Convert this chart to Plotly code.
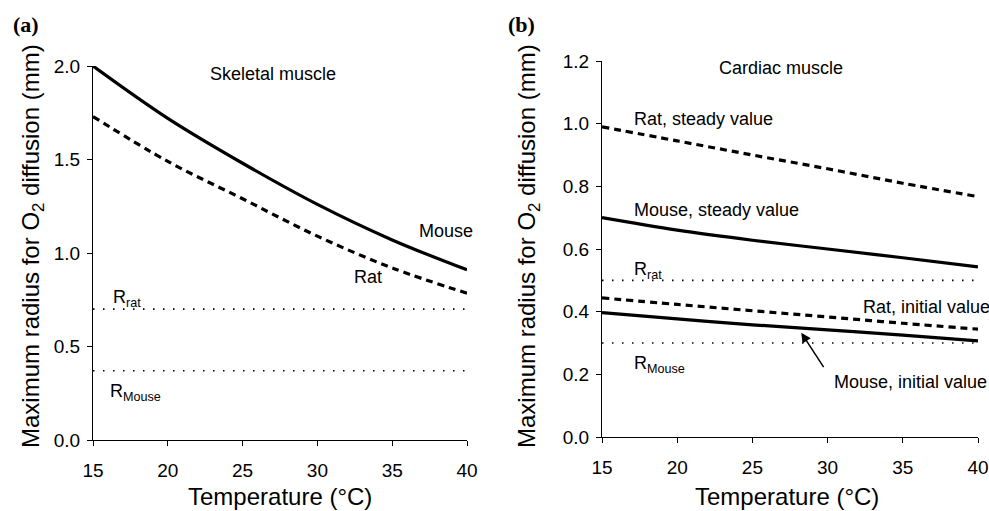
import plotly.graph_objects as go

W, H = 989, 511

temps = [15, 20, 25, 30, 35, 40]
# Panel (a): skeletal muscle
skel_mouse = [2.00, 1.72, 1.48, 1.26, 1.07, 0.91]
skel_rat = [1.73, 1.49, 1.29, 1.09, 0.92, 0.785]
skel_r_rat = 0.70
skel_r_mouse = 0.37
# Panel (b): cardiac muscle
card_rat_steady = [0.99, 0.945, 0.90, 0.856, 0.81, 0.767]
card_mouse_steady = [0.70, 0.66, 0.628, 0.60, 0.572, 0.543]
card_rat_initial = [0.444, 0.423, 0.403, 0.383, 0.363, 0.344]
card_mouse_initial = [0.397, 0.377, 0.358, 0.342, 0.325, 0.307]
card_r_rat = 0.50
card_r_mouse = 0.30

x_ticks = [15, 20, 25, 30, 35, 40]
ya_ticks = [0.0, 0.5, 1.0, 1.5, 2.0]
yb_ticks = [0.0, 0.2, 0.4, 0.6, 0.8, 1.0, 1.2]

FONT = "Liberation Sans, Arial, sans-serif"
SOLID = dict(color="black", width=3.2)
DASHED = dict(color="black", width=3.2, dash="7px,5px")
DOTTED = dict(color="black", width=1.6, dash="1.5px,8.5px")

fig = go.Figure()

def line(x, y, style, xa, ya):
    fig.add_trace(go.Scatter(x=x, y=y, mode="lines", line=dict(**style, shape="spline"),
                             xaxis=xa, yaxis=ya, showlegend=False, cliponaxis=False,
                             hoverinfo="skip"))

line(temps, skel_mouse, SOLID, "x", "y")
line(temps, skel_rat, DASHED, "x", "y")
line([15, 40], [skel_r_rat] * 2, DOTTED, "x", "y")
line([15, 40], [skel_r_mouse] * 2, DOTTED, "x", "y")

line(temps, card_rat_steady, DASHED, "x2", "y2")
line(temps, card_mouse_steady, SOLID, "x2", "y2")
line(temps, card_rat_initial, DASHED, "x2", "y2")
line(temps, card_mouse_initial, SOLID, "x2", "y2")
line([15, 40], [card_r_rat] * 2, DOTTED, "x2", "y2")
line([15, 40], [card_r_mouse] * 2, DOTTED, "x2", "y2")

def px(x):
    return x / W

def py(y):
    return 1 - y / H

axis_common = dict(showgrid=False, zeroline=False, showline=True, linecolor="black",
                   linewidth=1.3, ticks="outside", ticklen=5, tickwidth=1.3,
                   tickcolor="black", tickfont=dict(family=FONT, size=19, color="black"))

fig.update_layout(
    width=W, height=H, margin=dict(l=0, r=0, t=0, b=0, autoexpand=False),
    paper_bgcolor="white", plot_bgcolor="white",
    xaxis=dict(domain=[px(93), px(467)], range=[15, 40], tickvals=x_ticks,
               anchor="y", ticklabelstandoff=8, **axis_common),
    yaxis=dict(domain=[py(440), py(66)], range=[0, 2.0], tickvals=ya_ticks,
               tickformat=".1f", anchor="x", ticklabelstandoff=3, **axis_common),
    xaxis2=dict(domain=[px(602), px(978)], range=[15, 40], tickvals=x_ticks,
                anchor="y2", ticklabelstandoff=8, **axis_common),
    yaxis2=dict(domain=[py(437), py(61)], range=[0, 1.2], tickvals=yb_ticks,
                tickformat=".1f", anchor="x2", ticklabelstandoff=3, **axis_common),
)

def txt(text, x, y, size=18, xanchor="left", yanchor="middle", angle=0, family=FONT):
    fig.add_annotation(text=text, x=px(x), y=py(y), xref="paper", yref="paper",
                       xanchor=xanchor, yanchor=yanchor, showarrow=False,
                       textangle=angle, font=dict(family=family, size=size, color="black"))

# panel labels
txt("<b>(a)</b>", 11, 25, size=22, family="Liberation Serif, Times New Roman, serif")
txt("<b>(b)</b>", 495 + 11, 25, size=22, family="Liberation Serif, Times New Roman, serif")

# axis titles
ytitle = "Maximum radius for O<sub>2</sub> diffusion (mm)"
txt(ytitle, 32, 246, size=24, xanchor="center", angle=-90)
txt(ytitle, 528, 246, size=24, xanchor="center", angle=-90)
txt("Temperature (°C)", 280, 496, size=24, xanchor="center")
txt("Temperature (°C)", 787, 496, size=24, xanchor="center")

# panel (a) labels
txt("Skeletal muscle", 273, 74, xanchor="center")
txt("Mouse", 417, 231)
txt("Rat", 352, 277)
txt("R<sub>rat</sub>", 111, 298)
txt("R<sub>Mouse</sub>", 108, 392)

# panel (b) labels
txt("Cardiac muscle", 781, 68, xanchor="center")
txt("Rat, steady value", 632, 119)
txt("Mouse, steady value", 632, 210)
txt("R<sub>rat</sub>", 632, 270)
txt("Rat, initial value", 861, 307)
txt("R<sub>Mouse</sub>", 632, 364)
txt("Mouse, initial value", 832, 382)

# arrow pointing at mouse initial value curve
fig.add_annotation(x=28.25, y=0.333, ax=29.8, ay=0.218, xref="x2", yref="y2",
                   axref="x2", ayref="y2", showarrow=True, arrowhead=2,
                   arrowsize=1.3, arrowwidth=1.5, arrowcolor="black", text="")

fig.write_html("out.html")
